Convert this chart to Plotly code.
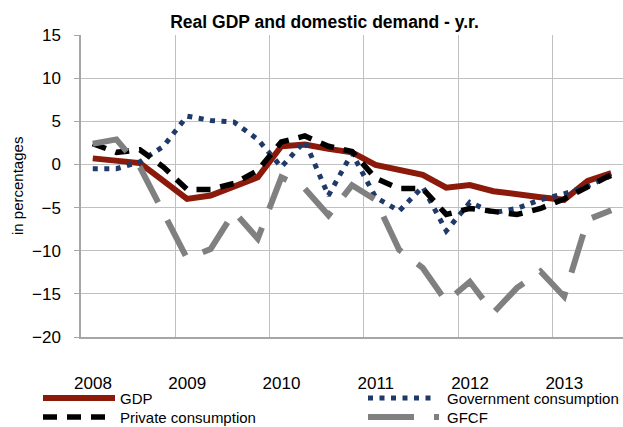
import plotly.graph_objects as go

quarters = [f"{y}Q{q}" for y in range(2008, 2014) for q in range(1, 5)][:23]
years = ["2008", "2009", "2010", "2011", "2012", "2013"]

gdp = [0.7, 0.45, 0.15, -1.9, -4.0, -3.6, -2.6, -1.5, 2.1, 2.3, 1.8, 1.4,
       -0.05, -0.6, -1.2, -2.7, -2.4, -3.1, -3.5, -3.8, -4.1, -1.9, -1.0]
gov = [-0.5, -0.5, 0.3, 2.1, 5.6, 5.1, 4.9, 2.9, -0.3, 2.7, -3.6, 1.3,
       -3.8, -5.4, -2.6, -7.7, -4.4, -5.6, -5.1, -4.1, -3.4, -2.5, -1.3]
priv = [2.4, 1.4, 1.7, -0.3, -2.9, -2.9, -2.2, -0.7, 2.6, 3.3, 2.1, 1.5,
        -1.6, -2.8, -2.8, -5.8, -5.1, -5.5, -5.8, -5.1, -4.0, -2.6, -1.2]
gfcf = [2.4, 2.9, -0.3, -5.7, -10.9, -9.8, -5.5, -8.6, -1.5, -2.8, -5.9, -2.4,
        -4.1, -9.9, -12.0, -15.9, -13.6, -17.2, -14.3, -12.4, -15.3, -6.4, -5.3]

series_names = ["GDP", "Government consumption", "Private consumption", "GFCF"]
series_values = [gdp, gov, priv, gfcf]
series_styles = [
    dict(color="#8B1A0A", width=6),
    dict(color="#1F3A68", width=5, dash="5px,6.5px"),
    dict(color="#000000", width=5.5, dash="14px,10px"),
    dict(color="#808080", width=6, dash="40px,20px"),
]

x = list(range(len(quarters)))
year_bounds = [i - 0.5 for i in range(0, len(quarters), 4)]

L, T, R, B = 81, 35, 623, 337   # plot area in pixels
W, H = 623, 427

fig = go.Figure()
for name, vals, style in zip(series_names, series_values, series_styles):
    fig.add_trace(go.Scatter(x=x, y=vals, name=name, mode="lines",
                             line=style, showlegend=False))

font = "Liberation Sans, Arial, sans-serif"


def px(X):
    return (X - L) / (R - L)


def py(Y):
    return (B - Y) / (B - T)


# Manual legend (two columns, two rows)
legend_layout = [
    # series index, line x0, line x1, text x, row y, dash override
    (0, 43, 115, 119, 398, None),
    (1, 368, 434, 446, 398, None),
    (2, 43, 115, 119, 417, None),
    (3, 368, 439, 446, 417, "46px,20px"),
]
shapes = []
annotations = []
for idx, x0, x1, tx, ry, dash in legend_layout:
    st = dict(series_styles[idx])
    if dash:
        st["dash"] = dash
    shapes.append(dict(type="line", xref="paper", yref="paper",
                       x0=px(x0), x1=px(x1), y0=py(ry), y1=py(ry), line=st))
    annotations.append(dict(text=series_names[idx], xref="paper", yref="paper",
                            x=px(tx), y=py(ry), xanchor="left", yanchor="middle",
                            showarrow=False, borderpad=0,
                            font=dict(size=15, family=font, color="black")))

annotations.append(dict(text="in percentages", xref="paper", yref="paper",
                        x=px(17), y=py(186), xanchor="center", yanchor="middle",
                        textangle=-90, showarrow=False, borderpad=0,
                        font=dict(size=15, family=font, color="black")))

fig.update_layout(
    width=W, height=H,
    margin=dict(l=L, r=W - R, t=T, b=H - B, autoexpand=False),
    paper_bgcolor="white", plot_bgcolor="white",
    font=dict(family=font, color="black"),
    showlegend=False,
    title=dict(text="<b>Real GDP and domestic demand - y.r.</b>",
               font=dict(size=17.5, family=font, color="black"),
               x=324.5 / W, xanchor="center", xref="container",
               y=1 - 22 / H, yanchor="middle", yref="container"),
    xaxis=dict(range=[-0.5, len(quarters) - 0.5], tickmode="array",
               tickvals=year_bounds, ticktext=years, automargin=False,
               ticklabelshift=12, ticklabelstandoff=30,
               showgrid=True, gridcolor="#C0C0C0", gridwidth=1.3,
               showline=True, linecolor="#A6A6A6", linewidth=1.5,
               ticks="", zeroline=False,
               tickfont=dict(size=17, family=font, color="black")),
    yaxis=dict(range=[-20, 15], dtick=5, tick0=0, automargin=False,
               showgrid=True, gridcolor="#C0C0C0", gridwidth=1.3,
               showline=True, linecolor="#A6A6A6", linewidth=1.5,
               ticks="outside", ticklen=5, tickcolor="#A6A6A6", tickwidth=1.3,
               ticklabelstandoff=10, zeroline=False,
               tickfont=dict(size=17, family=font, color="black")),
    shapes=shapes,
    annotations=annotations,
)

fig.write_html("out.html",
               config={"displayModeBar": False, "responsive": False},
               post_script="document.body.style.margin='0';")
